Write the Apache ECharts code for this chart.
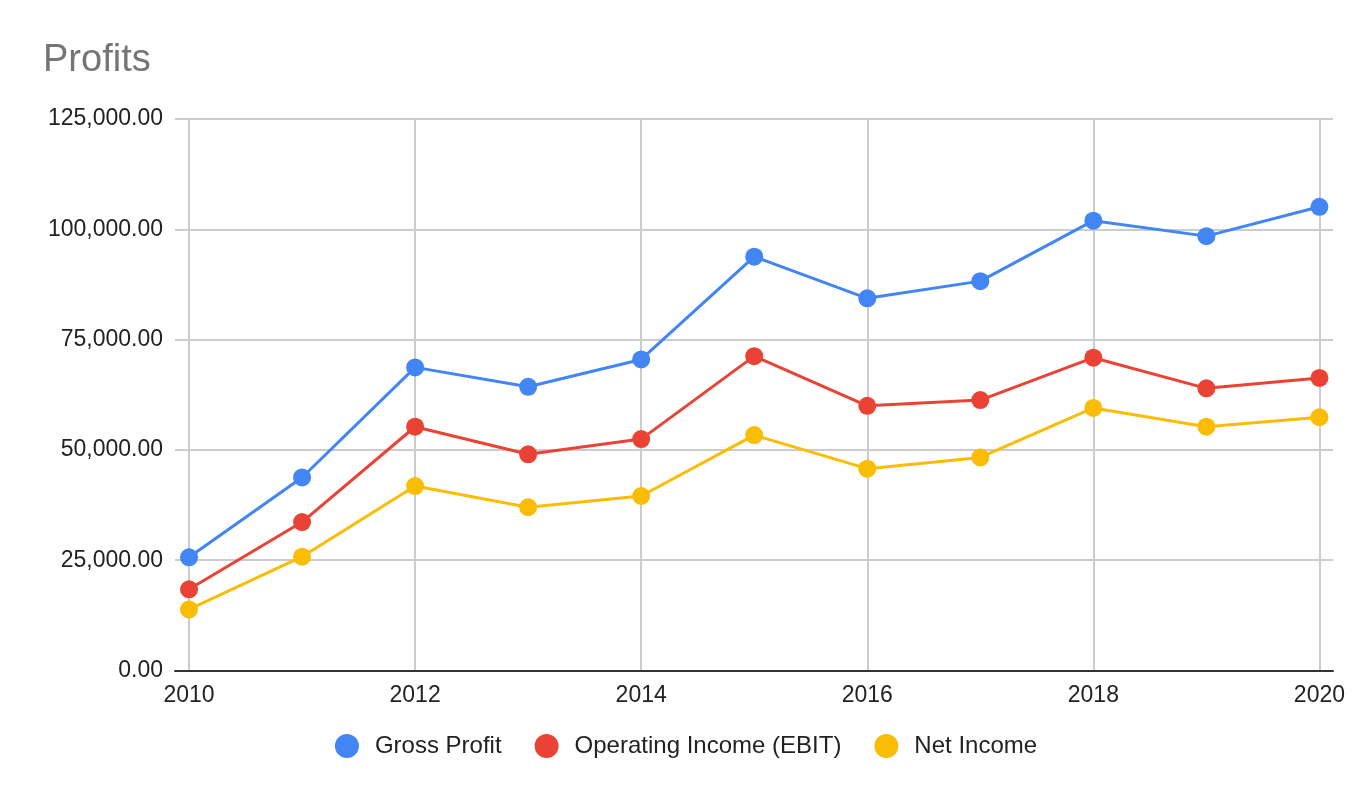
<!DOCTYPE html>
<html>
<head>
<meta charset="utf-8">
<script src="https://cdn.jsdelivr.net/npm/echarts@6/dist/echarts.min.js"></script>
<style>
html,body{margin:0;padding:0;background:#fff;}
#chart{width:1372px;height:798px;}
</style>
</head>
<body>
<div id="chart"></div>
<script>
const years = [2010, 2011, 2012, 2013, 2014, 2015, 2016, 2017, 2018, 2019, 2020];
const grossProfit = [25650, 43750, 68700, 64300, 70500, 93800, 84350, 88250, 101950, 98450, 105100];
const operatingIncome = [18400, 33650, 55250, 49000, 52450, 71250, 60000, 61300, 70900, 63950, 66300];
const netIncome = [13850, 25800, 41800, 37000, 39550, 53350, 45750, 48300, 59500, 55250, 57400];
const xTicks = [2010, 2012, 2014, 2016, 2018, 2020];
const seriesNames = ['Gross Profit', 'Operating Income (EBIT)', 'Net Income'];
const colors = ['#4285F4', '#EA4335', '#FBBC04'];

const font = 'Arial, "Liberation Sans", sans-serif';
const pair = arr => years.map((y, i) => [y, arr[i]]);
const mk = (name, data, color) => ({
  name, type: 'line', data: pair(data),
  symbol: 'circle', symbolSize: 18,
  itemStyle: {color},
  lineStyle: {color, width: 3},
  emphasis: {disabled: true},
  animation: false
});

const chart = echarts.init(document.getElementById('chart'));
chart.setOption({
  animation: false,
  title: {
    text: 'Profits', left: 38, top: 37,
    textStyle: {fontFamily: font, fontSize: 38, fontWeight: 'normal', color: '#757575'}
  },
  legend: {
    bottom: 35, left: 'center',
    icon: 'circle', itemWidth: 24, itemHeight: 24, itemGap: 33,
    textStyle: {fontFamily: font, fontSize: 24, color: '#222', padding: [0, 0, 0, 11]},
    data: seriesNames
  },
  grid: {left: 175, right: 39, top: 119, bottom: 127.5, containLabel: false},
  xAxis: {
    type: 'value', min: 2009.876, max: 2020.12,
    axisLine: {show: true, lineStyle: {color: '#333', width: 2}},
    axisTick: {show: false, customValues: xTicks},
    axisLabel: {customValues: xTicks, fontFamily: font, fontSize: 23, color: '#222', margin: 14,
      formatter: v => String(Math.round(v))},
    splitLine: {show: true, lineStyle: {color: '#cccccc', width: 2}}
  },
  yAxis: {
    type: 'value', min: 0, max: 125000, interval: 25000,
    axisLine: {show: false}, axisTick: {show: false},
    axisLabel: {fontFamily: font, fontSize: 23, color: '#222', margin: 12,
      formatter: v => v.toLocaleString('en-US', {minimumFractionDigits: 2, maximumFractionDigits: 2})},
    splitLine: {show: true, lineStyle: {color: '#cccccc', width: 2}}
  },
  series: [
    mk(seriesNames[0], grossProfit, colors[0]),
    mk(seriesNames[1], operatingIncome, colors[1]),
    mk(seriesNames[2], netIncome, colors[2])
  ]
});
</script>
</body>
</html>
